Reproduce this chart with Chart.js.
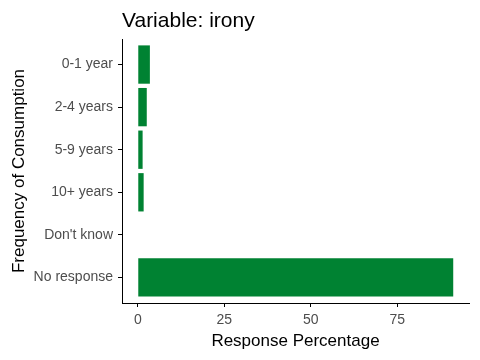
<!DOCTYPE html>
<html>
<head>
<meta charset="utf-8">
<script src="https://cdn.jsdelivr.net/npm/chart.js@4"></script>
<style>
  html, body { margin: 0; padding: 0; background: #fff; }
</style>
</head>
<body>
<canvas id="myChart" width="480" height="360"></canvas>
<script>
// categories and values (percent)
const categories = ['0-1 year', '2-4 years', '5-9 years', '10+ years', "Don't know", 'No response'];
const percentages = [3.5, 2.6, 1.4, 1.7, 0, 91.2];
const xTicks = [0, 25, 50, 75];
const chartTitle = 'Variable: irony';

const FONT = "'Liberation Sans', Arial, sans-serif";
const maxVal = Math.max(...percentages);

// title drawn aligned to the panel, like ggplot
const titlePlugin = {
  id: 'panelTitle',
  afterDraw(chart) {
    const c = chart.ctx;
    c.save();
    c.font = '21px ' + FONT;
    c.fillStyle = '#000';
    c.textBaseline = 'alphabetic';
    c.textAlign = 'left';
    c.fillText(chartTitle, chart.chartArea.left, 27);
    c.restore();
  }
};

const ctx = document.getElementById('myChart');
const chart = new Chart(ctx, {
  type: 'bar',
  data: {
    datasets: [{
      data: percentages.map((v, i) => ({ x: v, y: i })),
      backgroundColor: '#008232',
      borderWidth: 0,
      barPercentage: 0.9,
      categoryPercentage: 1.0
    }]
  },
  options: {
    indexAxis: 'y',
    responsive: false,
    animation: false,
    devicePixelRatio: 1,
    layout: { padding: { top: 39, right: 11, bottom: 0, left: 0 } },
    plugins: {
      legend: { display: false },
      tooltip: { enabled: false }
    },
    scales: {
      x: {
        type: 'linear',
        min: -0.05 * maxVal,
        max: 1.05 * maxVal,
        afterBuildTicks(scale) { scale.ticks = xTicks.map(v => ({ value: v })); },
        afterFit(scale) { scale.height = 57; },
        grid: { display: true, drawOnChartArea: false, drawTicks: true, tickLength: 4, color: '#000', tickColor: '#000' },
        border: { display: true, color: '#000', width: 1 },
        ticks: { color: '#4D4D4D', font: { family: FONT, size: 14 }, padding: 5, maxRotation: 0 },
        title: { display: true, text: 'Response Percentage', color: '#000', font: { family: FONT, size: 17 }, padding: { top: 0, bottom: 8 } }
      },
      y: {
        type: 'linear',
        reverse: true,
        offset: false,
        min: -0.6,
        max: categories.length - 1 + 0.6,
        afterBuildTicks(scale) { scale.ticks = categories.map((c, i) => ({ value: i })); },
        afterFit(scale) { scale.width = 122; },
        grid: { display: true, offset: false, drawOnChartArea: false, drawTicks: true, tickLength: 4, color: '#000', tickColor: '#000' },
        border: { display: true, color: '#000', width: 1 },
        ticks: {
          color: '#4D4D4D',
          font: { family: FONT, size: 14 },
          padding: 5,
          callback: (v) => categories[v]
        },
        title: { display: true, text: 'Frequency of Consumption', color: '#000', font: { family: FONT, size: 17 }, padding: { top: 9, bottom: 0 } }
      }
    }
  },
  plugins: [titlePlugin]
});
</script>
</body>
</html>
